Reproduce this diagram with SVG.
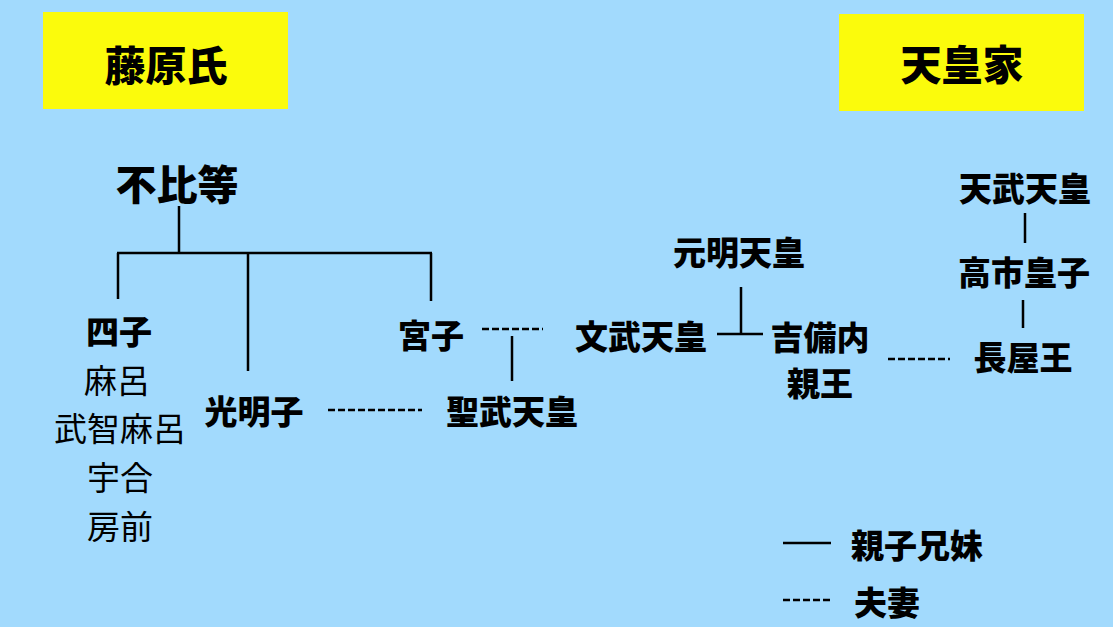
<svg xmlns="http://www.w3.org/2000/svg" width="1113" height="627" viewBox="0 0 1113 627">
<style>
text{font-family:"Noto Sans CJK JP","Noto Sans CJK SC",sans-serif;fill:#000;text-anchor:middle}
.t{font-size:41px;font-weight:900}
.b{font-size:33px;font-weight:900}
.r{font-size:33px;font-weight:400}
.ln{stroke:#000;stroke-width:2.5;fill:none}
.ds{stroke:#000;stroke-width:2.5;fill:none;stroke-dasharray:7 3}
</style>
<rect width="1113" height="627" fill="#A2DAFD"/>
<g id="title-fujiwara"><rect x="43" y="12" width="245" height="97" fill="#FBFB0C"/><text class="t" x="166" y="81">藤原氏</text></g>
<g id="title-tenno"><rect x="839" y="14" width="245" height="97" fill="#FBFB0C"/><text class="t" x="962" y="80">天皇家</text></g>
<g id="connectors">
<path class="ln" d="M179 206V253M117 253H432M118 253V299M248 253V371M431 253V301"/>
<path class="ds" d="M482 329H543"/>
<path class="ln" d="M512 336V381"/>
<path class="ds" d="M328 410H422"/>
<path class="ln" d="M741 287V334M717 334H763"/>
<path class="ds" d="M888 359H950"/>
<path class="ln" d="M1025 213V243M1023 300V328"/>
</g>
<g id="fuhito"><text class="t" x="177" y="200">不比等</text></g>
<g id="shishi"><text class="b" x="119" y="344">四子</text>
<text class="r" x="117" y="393">麻呂</text>
<text class="r" x="120" y="441">武智麻呂</text>
<text class="r" x="120" y="490">宇合</text>
<text class="r" x="120" y="539">房前</text></g>
<g id="komyoshi"><text class="b" x="254" y="424">光明子</text></g>
<g id="shomu"><text class="b" x="512" y="424">聖武天皇</text></g>
<g id="miyako"><text class="b" x="431" y="348">宮子</text></g>
<g id="monmu"><text class="b" x="641" y="349">文武天皇</text></g>
<g id="genmei"><text class="b" x="739" y="265">元明天皇</text></g>
<g id="kibi"><text class="b" x="820" y="350">吉備内</text><text class="b" x="820" y="396">親王</text></g>
<g id="nagaya"><text class="b" x="1023" y="370">長屋王</text></g>
<g id="tenmu"><text class="b" x="1025" y="201">天武天皇</text></g>
<g id="takechi"><text class="b" x="1024" y="285">高市皇子</text></g>
<g id="legend">
<path class="ln" d="M783 543H831"/>
<text class="b" x="917" y="558">親子兄妹</text>
<path class="ds" d="M783 600H831"/>
<text class="b" x="887" y="615">夫妻</text>
</g>
</svg>
